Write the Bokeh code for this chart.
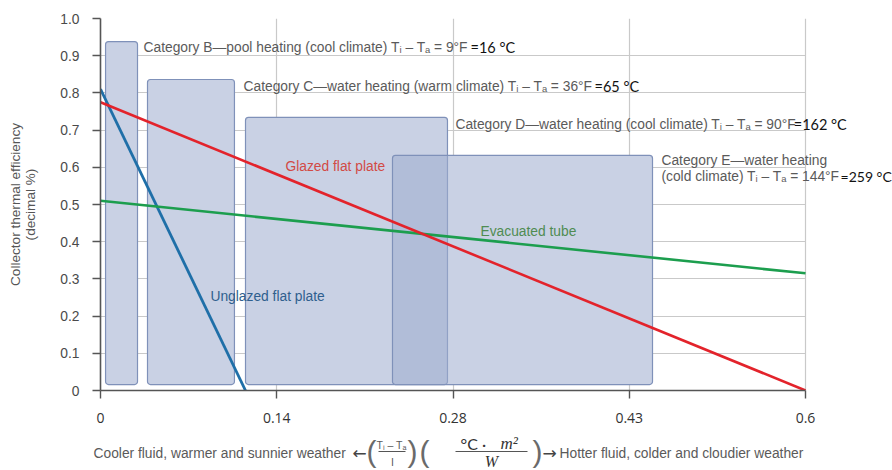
from bokeh.plotting import figure
from bokeh.models import Label, FixedTicker, Range1d
from bokeh.layouts import column
from bokeh.core.properties import value
from bokeh.embed import file_html
from bokeh.resources import INLINE

# ---------------- data ----------------
x_tick_pos = [0.0, 0.15, 0.30, 0.45, 0.60]
x_tick_labels = ["0", "0.14", "0.28", "0.43", "0.6"]
y_tick_pos = [0.0, 0.1, 0.2, 0.3, 0.4, 0.5, 0.6, 0.7, 0.8, 0.9, 1.0]
y_tick_labels = ["0", "0.1", "0.2", "0.3", "0.4", "0.5", "0.6", "0.7", "0.8", "0.9", "1.0"]

cat_names = ["B", "C", "D", "E"]
cat_left = [0.0043, 0.040, 0.1234, 0.2485]
cat_right = [0.0315, 0.114, 0.2953, 0.4698]
cat_bottom = [0.016, 0.016, 0.016, 0.016]
cat_top = [0.938, 0.836, 0.734, 0.632]

unglazed_x = [0.0, 0.1234]
unglazed_y = [0.81, 0.0]
glazed_x = [0.0, 0.6]
glazed_y = [0.775, 0.0]
evac_x = [0.0, 0.6]
evac_y = [0.51, 0.315]

# ---------------- main figure ----------------
FONT = "Liberation Sans"
p = figure(width=892, height=432, x_range=Range1d(0, 0.67404), y_range=Range1d(0, 1.0),
           output_backend="svg", toolbar_location=None,
           min_border_left=100, min_border_right=0, min_border_top=18, min_border_bottom=42)
p.outline_line_color = None
p.background_fill_color = "white"

GRID = "#c9c9c9"
p.xgrid.ticker = FixedTicker(ticks=x_tick_pos)
p.ygrid.ticker = FixedTicker(ticks=y_tick_pos)
p.xgrid.grid_line_color = GRID
p.ygrid.grid_line_color = GRID
p.xgrid.grid_line_width = 1.2
p.ygrid.grid_line_width = 1.2
p.ygrid.cross_bounds = (0, 0.6)

AX = "#555555"
for ax in (p.xaxis[0], p.yaxis[0]):
    ax.axis_line_color = AX
    ax.axis_line_width = 1.6
    ax.major_tick_line_color = AX
    ax.major_tick_line_width = 1.4
    ax.major_tick_out = 8
    ax.major_tick_in = 0
    ax.minor_tick_line_color = None

p.xaxis.bounds = (0, 0.6)
p.xaxis.ticker = FixedTicker(ticks=x_tick_pos)
p.xaxis.major_label_overrides = dict(zip(x_tick_pos, x_tick_labels))
p.xaxis.major_label_standoff = 14
p.xaxis.major_label_text_font = "Open Sans"
p.xaxis.major_label_text_font_size = "14px"
p.xaxis.major_label_text_color = "#333333"

p.yaxis.ticker = FixedTicker(ticks=y_tick_pos)
p.yaxis.major_label_overrides = dict(zip(y_tick_pos, y_tick_labels))
p.yaxis.major_label_standoff = 13
p.yaxis.major_label_text_font = FONT
p.yaxis.major_label_text_font_size = "13.8px"
p.yaxis.major_label_text_color = "#4a4a4a"
p.yaxis.axis_label = "Collector thermal efficiency\n(decimal %)"
p.yaxis.axis_label_text_font = FONT
p.yaxis.axis_label_text_font_size = "13.6px"
p.yaxis.axis_label_text_font_style = "normal"
p.yaxis.axis_label_text_color = "#555555"
p.yaxis.axis_label_text_line_height = 1.0
p.yaxis.axis_label_standoff = 19

# ---------------- category boxes ----------------
p.quad(left=cat_left, right=cat_right, bottom=cat_bottom, top=cat_top,
       fill_color="white", line_color=None, border_radius=3)
p.quad(left=cat_left, right=cat_right, bottom=cat_bottom, top=cat_top,
       fill_color="#9fadcf", fill_alpha=0.56, line_color="#7f91b9", line_width=1.2,
       border_radius=3)

# ---------------- efficiency lines ----------------
p.line(unglazed_x, unglazed_y, line_color="#1f6fa8", line_width=2.8)
p.line(evac_x, evac_y, line_color="#1c9e4e", line_width=2.6)
p.line(glazed_x, glazed_y, line_color="#e3232b", line_width=2.6)


def lab(x, y, text, color, size="13.8px", font=FONT, align="left", style="normal"):
    p.add_layout(Label(x=x, y=y, text=text, text_color=color, text_font_size=size,
                       text_font=font, text_align=align, text_baseline="middle",
                       text_font_style=style))


GRAY = "#5a5a5a"
BLACK = "#111111"
SUB = "T\u1d62 \u2013 T\u2090"
# category annotations
lab(0.0366, 0.922, "Category B\u2014pool heating (cool climate) " + SUB + " = 9\u00b0F", GRAY)
lab(0.3149, 0.922, "=16 \u00b0C", BLACK, size="14.5px", font="Lato")
lab(0.1217, 0.817, "Category C\u2014water heating (warm climate) " + SUB + " = 36\u00b0F", GRAY)
lab(0.4204, 0.817, " =65 \u00b0C", BLACK, size="14.5px", font="Lato")
lab(0.3021, 0.714, "Category D\u2014water heating (cool climate) " + SUB + " = 90\u00b0F", GRAY)
lab(0.5900, 0.714, "=162 \u00b0C", BLACK, size="14.5px", font="Lato")
lab(0.4774, 0.618, "Category E\u2014water heating", GRAY)
lab(0.4774, 0.575, "(cold climate) " + SUB + " = 144\u00b0F", GRAY)
lab(0.6298, 0.575, "=259 \u00b0C", BLACK, size="14px", font="Lato")

# line labels
lab(0.1574, 0.602, "Glazed flat plate", "#d24a45")
lab(0.3234, 0.427, "Evacuated tube", "#4f8c52")
lab(0.0936, 0.253, "Unglazed flat plate", "#2f5f8e")

# ---------------- x-axis title strip (below the plot) ----------------
# x range is expressed in window pixels; if frames cannot be un-aligned, the
# strip's frame starts where the main frame does (pixel 100)
q_left = 0
try:
    p.frame_align = False
except AttributeError:
    q_left = 100

q = figure(width=892, height=38, x_range=Range1d(q_left, 892), y_range=Range1d(38, 0),
           output_backend="svg", toolbar_location=None,
           x_axis_location=None, y_axis_location=None,
           min_border_left=q_left, min_border_right=0, min_border_top=0, min_border_bottom=0)
if q_left == 0:
    q.frame_align = False
q.grid.visible = False
q.outline_line_color = None


def qtext(xs, ys, texts, color, size, font=FONT, align="left", style="normal"):
    q.text(x=xs, y=ys, text=texts, text_color=color, text_font_size=size,
           text_font=value(font), text_align=align, text_baseline="middle",
           text_font_style=style)


left_x = 93 if q_left == 0 else 101
left_size = "13.8px" if q_left == 0 else "13.4px"
qtext([left_x], [21], ["Cooler fluid, warmer and sunnier weather"], GRAY, left_size)
qtext([359, 549], [20, 20], ["\u2190", "\u2192"], "#444444", "17px", font="DejaVu Sans", align="center")
qtext([559], [21], ["Hotter fluid, colder and cloudier weather"], GRAY, "13.8px")
qtext([371, 412, 424, 537], [19, 19, 19, 19], ["(", ")", "(", ")"], "#6a6a6a", "30px", align="center")
qtext([391, 392], [12, 29], [SUB, "I"], GRAY, "10.5px", align="center")
qtext([460], [11], ["\u00b0C  \u00b7"], "#333333", "16px", font="Lato")
qtext([500], [11], ["m\u00b2"], "#333333", "17px", font="Liberation Serif", style="italic")
qtext([491], [29], ["W"], "#333333", "16px", font="Liberation Serif", style="italic", align="center")
q.segment(x0=[378, 455], x1=[405, 527], y0=[19, 19], y1=[19, 19], line_color="#555555", line_width=1)

open("out.html", "w").write(file_html(column(p, q), INLINE))
